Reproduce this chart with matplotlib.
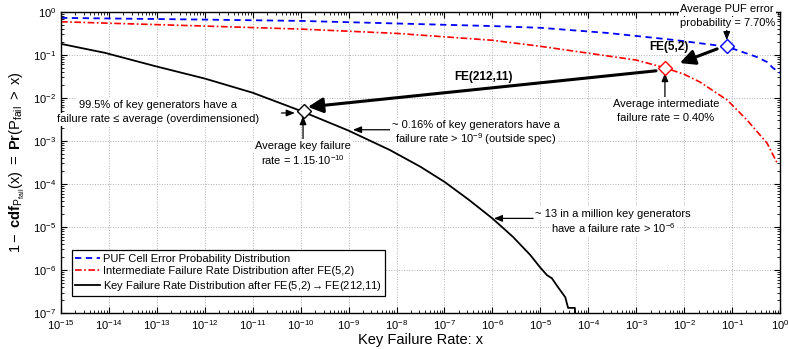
import numpy as np
import matplotlib
matplotlib.use("Agg")
import matplotlib.pyplot as plt

plt.rcParams['font.family'] = ['Liberation Sans', 'DejaVu Sans']
plt.rcParams['mathtext.fontset'] = 'custom'
plt.rcParams['mathtext.rm'] = 'Liberation Sans'
plt.rcParams['mathtext.it'] = 'Liberation Sans:italic'
plt.rcParams['mathtext.bf'] = 'Liberation Sans:bold'

# ---- data (log10 values) ----
puf_logx = [-15, -12, -10, -8, -6, -5, -3.6, -2.23, -1.1, -0.48, -0.26, -0.15, 0]
puf_logy = [-0.14, -0.18, -0.21, -0.27, -0.33, -0.37, -0.49, -0.65, -0.81, -1.05, -1.17, -1.3, -1.42]

int_logx = [-15, -12, -10, -8, -6, -5, -4, -3, -2.4, -2.0, -1.67, -1.1, -0.69, -0.27, -0.06]
int_logy = [-0.23, -0.33, -0.40, -0.50, -0.66, -0.80, -0.96, -1.12, -1.3, -1.45, -1.63, -2.05, -2.51, -3.05, -3.51]

key_logx = [-15, -14.08, -13.04, -12.0, -11.0, -10.0, -9.0, -8.14, -7.5, -7.0, -6.5, -6.0, -5.57,
            -5.21, -5.01, -4.86, -4.76, -4.63, -4.48, -4.42, -4.28, -4.25]
key_logy = [-0.744, -0.953, -1.26, -1.55, -1.88, -2.30, -2.76, -3.21, -3.60, -3.95, -4.36, -4.80, -5.23,
            -5.65, -5.93, -6.12, -6.19, -6.40, -6.63, -6.88, -6.88, -7.3]

labels = ['PUF Cell Error Probability Distribution',
          'Intermediate Failure Rate Distribution after FE(5,2)',
          r'Key Failure Rate Distribution after FE(5,2)$\rightarrow$FE(212,11)']

avg_x = [0.077, 0.004, 1.15e-10]
avg_y = [0.160, 0.05, 0.005]
avg_col = ['blue', 'red', 'black']

xtick_exp = list(range(-15, 1))
ytick_exp = list(range(-7, 1))

fig = plt.figure(figsize=(7.88, 3.49), dpi=100)
ax = fig.add_axes([0.0774, 0.103, 0.9124, 0.863])

ax.plot(np.power(10.0, puf_logx), np.power(10.0, puf_logy), color='blue', ls=(0, (3.5, 2.5)), lw=1.3, label=labels[0])
ax.plot(np.power(10.0, int_logx), np.power(10.0, int_logy), color='red', ls=(0, (4, 1.5, 1, 1.5)), lw=1.2, label=labels[1])
ax.plot(np.power(10.0, key_logx), np.power(10.0, key_logy), color='black', ls='-', lw=1.3, label=labels[2])

for xv, yv, c in zip(avg_x, avg_y, avg_col):
    ax.plot([xv], [yv], marker='D', ms=7.5, mfc='white', mec=c, mew=1.0, ls='none', zorder=6)

ax.set_xscale('log')
ax.set_yscale('log')
ax.set_xlim(1e-15, 1)
ax.set_ylim(1e-7, 1)
ax.set_xticks([10.0**e for e in xtick_exp])
ax.set_xticklabels([r'$10^{%d}$' % e for e in xtick_exp])
ax.set_yticks([10.0**e for e in ytick_exp])
ax.set_yticklabels([r'$10^{%d}$' % e for e in ytick_exp])
ax.xaxis.set_minor_locator(matplotlib.ticker.LogLocator(base=10, subs=np.arange(2, 10), numticks=100))
ax.yaxis.set_minor_locator(matplotlib.ticker.LogLocator(base=10, subs=np.arange(2, 10), numticks=100))
ax.xaxis.set_minor_formatter(matplotlib.ticker.NullFormatter())
ax.yaxis.set_minor_formatter(matplotlib.ticker.NullFormatter())
ax.tick_params(which='both', direction='in', top=True, right=True, labelsize=8, color='black')
ax.tick_params(which='major', length=4, width=0.8)
ax.tick_params(which='minor', length=2, width=0.6)
ax.grid(True, which='major', ls=':', color='#b0b0b0', lw=0.7)
for s in ax.spines.values():
    s.set_linewidth(1.0)

ax.set_xlabel('Key Failure Rate: x', fontsize=10.5, labelpad=1)
ax.set_ylabel(r'$\mathrm{1-\ }\mathbf{cdf}_{\mathrm{P}_{\mathrm{fail}}}\mathrm{(x)\ =\ }\mathbf{Pr}\mathrm{(P}_{\mathrm{fail}}\mathrm{\ >\ x)}$',
              fontsize=10.5, labelpad=4)

leg = ax.legend(loc='lower left', bbox_to_anchor=(0.015, 0.055), fontsize=8, frameon=True, fancybox=False,
                edgecolor='black', framealpha=1, handlelength=2.2, handletextpad=0.3,
                labelspacing=0.25, borderpad=0.3, borderaxespad=0)
leg.get_frame().set_linewidth(0.9)

wb = dict(boxstyle='square,pad=0.15', fc='white', ec='none')
thick = dict(arrowstyle='-|>,head_length=0.9,head_width=0.45', color='black', lw=2.2, shrinkA=0, shrinkB=0)
thin = dict(arrowstyle='-|>,head_length=0.5,head_width=0.2', color='black', lw=0.9, shrinkA=0, shrinkB=0)


def two_lines(x, y, l1, l2, gap=10.5, zorder=4):
    """Draw two centred text lines around data point (x, y), gap in points."""
    for txt, off in ((l1, gap / 2), (l2, -gap / 2)):
        ax.annotate(txt, xy=(x, y), xytext=(0, off), textcoords='offset points',
                    fontsize=8, ha='center', va='center', bbox=wb, zorder=zorder,
                    annotation_clip=False)


# FE arrows
ax.annotate('', xy=(10**-2.09, 10**-1.19), xytext=(10**-1.31, 10**-0.86), arrowprops=thick, zorder=5)
ax.text(10**-2.315, 10**-0.81, 'FE(5,2)', fontsize=8.5, fontweight='bold', ha='center', va='center')
ax.annotate('', xy=(10**-9.85, 10**-2.21), xytext=(10**-2.586, 10**-1.37), arrowprops=thick, zorder=5)
ax.text(10**-6.175, 10**-1.51, 'FE(212,11)', fontsize=8.5, fontweight='bold', ha='center', va='center')

# text annotations
two_lines(10**-1.10, 10**-0.10, 'Average PUF error', 'probability = 7.70%', zorder=7)
ax.annotate('', xy=(10**-1.11, 10**-0.66), xytext=(10**-1.11, 10**-0.40), arrowprops=thin)

two_lines(10**-2.38, 10**-2.30, 'Average intermediate', 'failure rate = 0.40%')
ax.annotate('', xy=(10**-2.40, 10**-1.42), xytext=(10**-2.40, 10**-1.98), arrowprops=thin)

two_lines(10**-12.98, 10**-2.33, '99.5% of key generators have a', 'failure rate \u2264 average (overdimensioned)')
ax.annotate('', xy=(10**-10.12, 10**-2.35), xytext=(10**-10.4, 10**-2.35), arrowprops=thin)

two_lines(10**-9.95, 10**-3.28, 'Average key failure', 'rate = 1.15$\\cdot$10$^{-10}$')
ax.annotate('', xy=(10**-9.95, 10**-2.42), xytext=(10**-9.95, 10**-2.98), arrowprops=thin)

two_lines(10**-6.34, 10**-2.79, '~ 0.16% of key generators have a', 'failure rate > 10$^{-9}$ (outside spec)')
ax.annotate('', xy=(10**-8.91, 10**-2.74), xytext=(10**-8.09, 10**-2.74), arrowprops=thin)

two_lines(10**-3.48, 10**-4.86, '~ 13 in a million key generators', 'have a failure rate > 10$^{-6}$')
ax.annotate('', xy=(10**-5.97, 10**-4.80), xytext=(10**-5.15, 10**-4.80), arrowprops=thin)

fig.savefig('out.png', dpi=100)
